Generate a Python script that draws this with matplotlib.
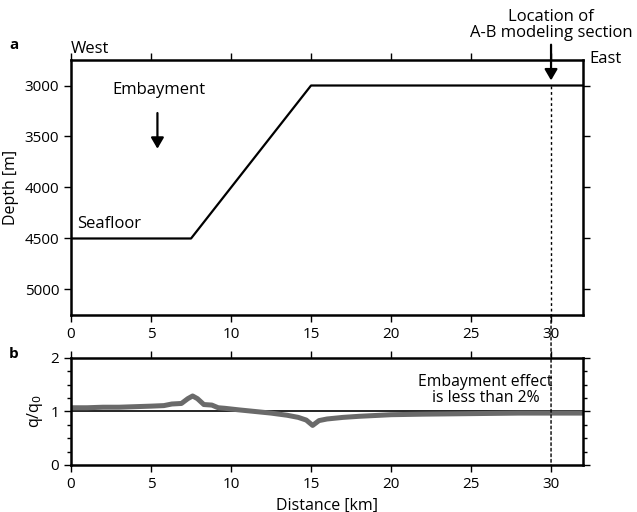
import numpy as np
import matplotlib
matplotlib.use("Agg")
import matplotlib.pyplot as plt
from matplotlib.patches import ConnectionPatch

plt.rcParams['font.family'] = ['Open Sans', 'DejaVu Sans']
plt.rcParams['font.size'] = 11

# seafloor profile (distance km, depth m)
sea_x = [0, 7.5, 15, 32]
sea_z = [4500, 4500, 3000, 3000]

# normalized heat flow q/q0 along profile
q_x = [0, 1, 2, 3, 4, 5, 5.8, 6.3, 6.9, 7.3, 7.6, 7.9, 8.3, 8.8, 9.2, 9.6, 10.5,
       11.5, 12.5, 13.5, 14.2, 14.7, 15.1, 15.5, 16, 17, 18, 20, 22, 25, 28, 32]
q_v = [1.07, 1.07, 1.08, 1.08, 1.09, 1.1, 1.11, 1.14, 1.15, 1.24, 1.29, 1.24, 1.13, 1.12,
       1.07, 1.06, 1.03, 1.0, 0.97, 0.93, 0.89, 0.84, 0.74, 0.83, 0.86, 0.89, 0.91,
       0.94, 0.95, 0.96, 0.97, 0.97]

section_x = 30

fig = plt.figure(figsize=(6.37, 5.12), dpi=100)
ax1 = fig.add_axes([0.1115, 0.3848, 0.8038, 0.498])
ax2 = fig.add_axes([0.1115, 0.0918, 0.8038, 0.209])

for ax in (ax1, ax2):
    for s in ax.spines.values():
        s.set_linewidth(1.8)
    ax.tick_params(which='both', direction='out', top=True, right=True, width=1.0)
    ax.tick_params(which='major', length=5)
    ax.tick_params(which='minor', length=3)
    ax.set_xlim(0, 32)
    ax.set_xticks(range(0, 31, 5))

arrow_style = dict(arrowstyle='-|>,head_width=0.35,head_length=0.6', color='black', lw=1.6,
                   shrinkA=0, shrinkB=0)

# panel a
ax1.plot(sea_x, sea_z, color='black', lw=1.6)
ax1.set_ylim(5250, 2750)
ax1.set_yticks([3000, 3500, 4000, 4500, 5000])
ax1.set_ylabel('Depth [m]', fontsize=11.5)
ax1.plot([section_x, section_x], [3000, 5250], color='black', lw=1.0, ls=(0, (2, 2)))
ax1.text(0, 2720, 'West', ha='left', va='bottom', fontsize=12)
ax1.text(32.4, 2745, 'East', ha='left', va='center', fontsize=12)
ax1.text(2.6, 3120, 'Embayment', ha='left', va='bottom', fontsize=12)
ax1.annotate('', xy=(5.4, 3620), xytext=(5.4, 3270), arrowprops=arrow_style)
ax1.text(0.4, 4440, 'Seafloor', ha='left', va='bottom', fontsize=12)
fig.text(0.014, 0.905, 'a', fontweight='bold', fontsize=11)
ax1.text(section_x, 2565, 'Location of\nA-B modeling section', ha='center', va='bottom',
         fontsize=12, linespacing=1.05, clip_on=False)
ax1.annotate('', xy=(section_x, 2950), xytext=(section_x, 2600),
             annotation_clip=False, arrowprops=arrow_style)

# panel b
ax2.axhline(1, color='black', lw=1.2)
ax2.plot(q_x, q_v, color='#6a6a6a', lw=3.6, solid_capstyle='butt')
ax2.set_ylim(0, 2)
ax2.set_yticks([0, 1, 2])
ax2.set_yticks(np.arange(0, 2.01, 0.25), minor=True)
ax2.set_ylabel('q/q$_0$', fontsize=11.5)
ax2.set_xlabel('Distance [km]', fontsize=11.5)
ax2.text(30.1, 1.1, 'Embayment effect\nis less than 2%', ha='right', va='bottom',
         fontsize=11.3, multialignment='center', linespacing=1.05)
fig.text(0.014, 0.3, 'b', fontweight='bold', fontsize=11)

con = ConnectionPatch(xyA=(section_x, 5250), coordsA=ax1.transData,
                      xyB=(section_x, 0), coordsB=ax2.transData,
                      color='black', lw=1.0, ls=(0, (2, 2)))
fig.add_artist(con)

fig.savefig('out.png', dpi=100)
